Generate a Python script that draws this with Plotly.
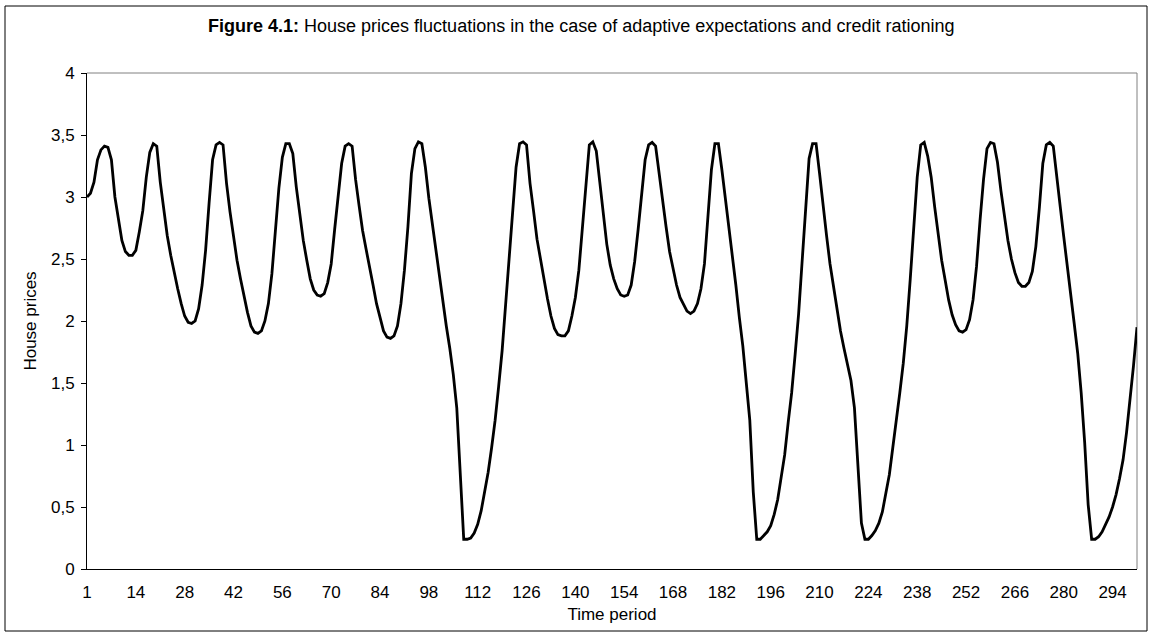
import plotly.graph_objects as go

# House price path, one value per time period
house_price = [
    3.00, 3.03, 3.12, 3.30, 3.38, 3.41, 3.40, 3.30, 3.00, 2.81,
    2.65, 2.56, 2.53, 2.53, 2.57, 2.72, 2.89, 3.16, 3.36, 3.43,
    3.41, 3.12, 2.88, 2.69, 2.53, 2.38, 2.26, 2.14, 2.04, 1.99,
    1.98, 2.00, 2.10, 2.29, 2.57, 2.95, 3.30, 3.42, 3.44, 3.42,
    3.11, 2.88, 2.68, 2.49, 2.34, 2.19, 2.07, 1.96, 1.91, 1.90,
    1.92, 2.00, 2.14, 2.38, 2.70, 3.07, 3.32, 3.43, 3.43, 3.35,
    3.08, 2.87, 2.65, 2.49, 2.34, 2.25, 2.21, 2.20, 2.22, 2.31,
    2.46, 2.74, 3.01, 3.27, 3.41, 3.43, 3.41, 3.14, 2.93, 2.73,
    2.58, 2.42, 2.29, 2.14, 2.02, 1.92, 1.87, 1.86, 1.88, 1.96,
    2.14, 2.41, 2.76, 3.19, 3.39, 3.445, 3.43, 3.24, 2.99, 2.78,
    2.58, 2.37, 2.17, 1.96, 1.78, 1.57, 1.30, 0.75, 0.24, 0.24,
    0.25, 0.29, 0.36, 0.47, 0.61, 0.78, 0.98, 1.20, 1.47, 1.76,
    2.13, 2.49, 2.92, 3.24, 3.43, 3.445, 3.42, 3.11, 2.89, 2.66,
    2.50, 2.33, 2.18, 2.04, 1.94, 1.89, 1.88, 1.88, 1.92, 2.04,
    2.19, 2.41, 2.76, 3.14, 3.42, 3.445, 3.37, 3.12, 2.84, 2.62,
    2.45, 2.34, 2.26, 2.21, 2.20, 2.21, 2.29, 2.48, 2.74, 3.03,
    3.30, 3.42, 3.44, 3.41, 3.19, 2.95, 2.76, 2.56, 2.41, 2.29,
    2.19, 2.13, 2.08, 2.06, 2.08, 2.14, 2.26, 2.46, 2.81, 3.22,
    3.43, 3.43, 3.22, 2.99, 2.77, 2.52, 2.29, 2.03, 1.80, 1.50,
    1.20, 0.62, 0.24, 0.24, 0.27, 0.30, 0.35, 0.44, 0.56, 0.73,
    0.92, 1.18, 1.42, 1.73, 2.06, 2.48, 2.91, 3.31, 3.43, 3.43,
    3.19, 2.91, 2.69, 2.46, 2.27, 2.07, 1.92, 1.78, 1.65, 1.52,
    1.30, 0.85, 0.37, 0.24, 0.24, 0.27, 0.31, 0.37, 0.46, 0.61,
    0.76, 0.98, 1.18, 1.42, 1.66, 1.96, 2.34, 2.76, 3.16, 3.42,
    3.44, 3.33, 3.16, 2.92, 2.68, 2.49, 2.33, 2.17, 2.05, 1.97,
    1.92, 1.91, 1.93, 2.01, 2.17, 2.44, 2.81, 3.14, 3.39, 3.44,
    3.43, 3.28, 3.05, 2.85, 2.65, 2.50, 2.39, 2.31, 2.28, 2.28,
    2.31, 2.40, 2.60, 2.91, 3.27, 3.42, 3.44, 3.41, 3.14, 2.92,
    2.68, 2.46, 2.22, 1.98, 1.74, 1.42, 1.02, 0.52, 0.24, 0.24,
    0.26, 0.30, 0.36, 0.42, 0.50, 0.60, 0.73, 0.88, 1.10, 1.36,
    1.64, 1.95,
]

# Category positions along the time axis
period = list(range(len(house_price)))

# Labelled time periods on the horizontal axis
tick_positions = [0, 14, 28, 42, 56, 70, 84, 98, 112, 126, 140, 154,
                  168, 182, 196, 210, 224, 238, 252, 266, 280, 294]
tick_labels = ["1", "14", "28", "42", "56", "70", "84", "98", "112", "126",
               "140", "154", "168", "182", "196", "210", "224", "238",
               "252", "266", "280", "294"]

y_ticks = [0, 0.5, 1, 1.5, 2, 2.5, 3, 3.5, 4]

FONT = "Liberation Sans, Arial, sans-serif"

fig = go.Figure()
fig.add_trace(go.Scatter(
    x=period,
    y=house_price,
    mode="lines",
    line=dict(color="#000000", width=2.8),
    hoverinfo="x+y",
    showlegend=False,
))

fig.update_layout(
    width=1151,
    height=637,
    margin=dict(l=87, r=14, t=73, b=68),
    paper_bgcolor="#ffffff",
    plot_bgcolor="#ffffff",
    separators=", ",
    font=dict(family=FONT, size=17, color="#000000"),
    title=dict(
        text="<b>Figure 4.1:</b> House prices fluctuations in the case of "
             "adaptive expectations and credit rationing",
        x=0.505, xanchor="center", xref="container",
        y=1 - 26 / 637, yanchor="middle", yref="container",
        font=dict(family=FONT, size=18, color="#000000"),
    ),
    xaxis=dict(
        range=[0, len(house_price) - 1],
        tickmode="array",
        tickvals=tick_positions,
        ticktext=tick_labels,
        ticks="",
        ticklabelstandoff=8,
        showgrid=False,
        zeroline=False,
        showline=True,
        linecolor="#000000",
        linewidth=1,
        tickfont=dict(family=FONT, size=17),
        title=dict(text="Time period", font=dict(family=FONT, size=17),
                   standoff=6),
    ),
    yaxis=dict(
        range=[0, 4],
        tickmode="array",
        tickvals=y_ticks,
        ticks="outside",
        ticklen=5,
        tickcolor="#000000",
        ticklabelstandoff=3,
        showgrid=False,
        zeroline=False,
        showline=True,
        linecolor="#000000",
        linewidth=1,
        tickfont=dict(family=FONT, size=17),
        title=dict(text="House prices", font=dict(family=FONT, size=17),
                   standoff=10),
    ),
    shapes=[
        # grey frame on the top and right of the plot area
        dict(type="line", xref="paper", yref="paper", x0=0, x1=1, y0=1, y1=1,
             line=dict(color="#808080", width=1), layer="below"),
        dict(type="line", xref="paper", yref="paper", x0=1, x1=1, y0=0, y1=1,
             line=dict(color="#808080", width=1), layer="below"),
        # outer chart border
        dict(type="rect", xref="paper", yref="paper",
             x0=-82 / 1050, x1=1 + 10 / 1050,
             y0=-62 / 496, y1=1 + 67 / 496,
             line=dict(color="#000000", width=1), fillcolor="rgba(0,0,0,0)"),
    ],
)

fig.write_html("out.html")
